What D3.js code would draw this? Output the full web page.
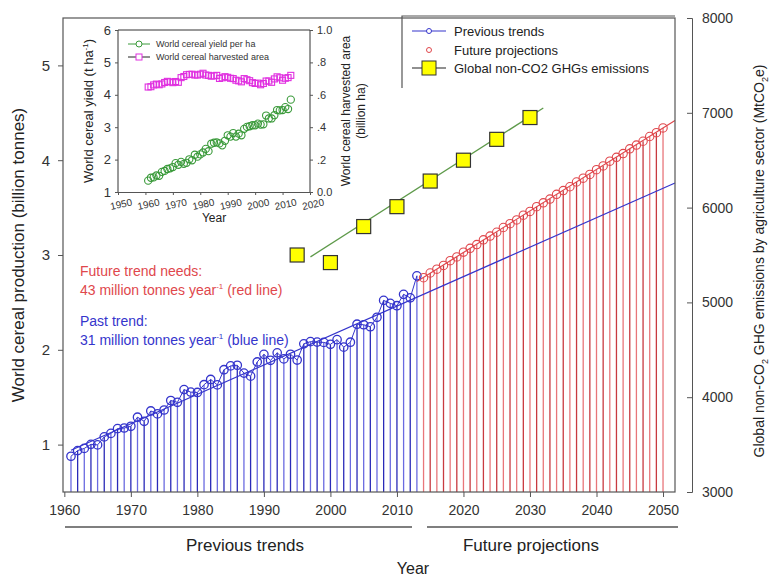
<!DOCTYPE html>
<html>
<head>
<meta charset="utf-8">
<script src="https://cdn.jsdelivr.net/npm/d3@7"></script>
<style>
  body { margin: 0; background: #fff; }
  svg { font-family: Arial, "Liberation Sans", sans-serif; }
  .axis path, .axis line { stroke: #555; }
  .axis text { fill: #333; }
</style>
</head>
<body>
<svg width="772" height="578"></svg>
<script>
// years of the observed series
const pastYears = d3.range(1961, 2014);
// world cereal production, billion tonnes, 1961-2013
const production = [0.877,0.937,0.960,1.003,0.997,1.081,1.118,1.168,1.175,1.193,1.289,1.246,1.355,1.324,1.365,1.465,1.446,1.580,1.554,1.550,1.632,1.687,1.630,1.790,1.830,1.837,1.754,1.722,1.872,1.952,1.889,1.968,1.904,1.953,1.892,2.063,2.086,2.081,2.078,2.058,2.107,2.028,2.080,2.270,2.264,2.243,2.343,2.521,2.490,2.465,2.585,2.548,2.780];
// future projections 2014-2050, billion tonnes
const futureYears = d3.range(2014, 2051);
const projection = [2.76,2.81,2.85,2.89,2.94,2.98,3.03,3.07,3.11,3.16,3.20,3.24,3.29,3.33,3.37,3.42,3.46,3.51,3.55,3.59,3.64,3.68,3.72,3.77,3.81,3.85,3.90,3.94,3.99,4.03,4.07,4.12,4.16,4.20,4.25,4.29,4.34];
// trend lines [year, value]
const pastTrend = [[1961, 0.94], [2051.8, 3.76]];
const futureTrend = [[2013, 2.72], [2051.8, 4.42]];
// non-CO2 GHG emissions, MtCO2e
const ghgYears = [1995, 2000, 2005, 2010, 2015, 2020, 2025, 2030];
const ghg = [5500, 5420, 5800, 6010, 6280, 6500, 6720, 6950];
const ghgTrend = [[1997, 5480], [2032, 7050]];
// inset: yield t/ha and harvested area billion ha, 1961-2013
const yieldVals = [1.35,1.44,1.45,1.51,1.50,1.62,1.65,1.71,1.73,1.77,1.89,1.84,1.93,1.87,1.90,2.01,1.98,2.15,2.09,2.16,2.22,2.33,2.26,2.49,2.52,2.53,2.50,2.44,2.58,2.75,2.71,2.82,2.71,2.80,2.75,2.95,3.01,3.03,3.06,3.06,3.11,3.08,3.09,3.36,3.27,3.27,3.37,3.53,3.52,3.53,3.62,3.56,3.85];
const areaVals = [0.648,0.650,0.661,0.666,0.662,0.667,0.676,0.683,0.680,0.675,0.682,0.677,0.706,0.713,0.724,0.726,0.727,0.722,0.722,0.727,0.733,0.722,0.720,0.715,0.717,0.720,0.701,0.705,0.712,0.708,0.702,0.700,0.690,0.686,0.680,0.700,0.693,0.687,0.675,0.670,0.672,0.662,0.670,0.685,0.685,0.677,0.698,0.711,0.705,0.690,0.702,0.706,0.720];

const xTicks = [1960, 1970, 1980, 1990, 2000, 2010, 2020, 2030, 2040, 2050];
const yTicks = [1, 2, 3, 4, 5];
const y2Ticks = [3000, 4000, 5000, 6000, 7000, 8000];
const insetXTicks = [1950, 1960, 1970, 1980, 1990, 2000, 2010, 2020];
const insetYTicks = [1, 2, 3, 4, 5, 6];
const insetY2Ticks = [0, 0.2, 0.4, 0.6, 0.8, 1.0];

const BLUE = '#3535cc';
const RED = '#e0474c';
const fmtInt = d3.format('d');

const svg = d3.select('svg');
const M = { left: 63, right: 675, top: 18, bottom: 492 };

const x = d3.scaleLinear().domain([1959.8, 2051.8]).range([M.left, M.right]);
const y = d3.scaleLinear().domain([0.5, 5.5]).range([M.bottom, M.top]);
const y2 = d3.scaleLinear().domain([3000, 8000]).range([M.bottom, M.top]);

// bars (stems)
const pastData = pastYears.map((yr, i) => ({ yr, v: production[i] }));
const futData = futureYears.map((yr, i) => ({ yr, v: projection[i] }));

svg.append('g').selectAll('line').data(pastData).enter().append('line')
  .attr('x1', d => x(d.yr)).attr('x2', d => x(d.yr))
  .attr('y1', y(0.5)).attr('y2', d => y(d.v))
  .attr('stroke', (d, i) => i % 2 ? '#2a2ab8' : '#6a6ae0')
  .attr('stroke-width', 1.3);

svg.append('g').selectAll('line').data(futData).enter().append('line')
  .attr('x1', d => x(d.yr)).attr('x2', d => x(d.yr))
  .attr('y1', y(0.5)).attr('y2', d => y(d.v))
  .attr('stroke', (d, i) => i % 2 ? '#c83a40' : '#e8767a')
  .attr('stroke-width', 1.3);

const line = d3.line().x(d => x(d[0])).y(d => y(d[1]));

// trend lines
svg.append('path').attr('d', line(pastTrend)).attr('stroke', BLUE).attr('stroke-width', 1.2).attr('fill', 'none');
svg.append('path').attr('d', line(futureTrend)).attr('stroke', RED).attr('stroke-width', 1.2).attr('fill', 'none');

// observed line + circles
svg.append('path')
  .attr('d', line(pastData.map(d => [d.yr, d.v])))
  .attr('stroke', BLUE).attr('stroke-width', 1).attr('fill', 'none');
svg.append('g').selectAll('circle').data(pastData).enter().append('circle')
  .attr('cx', d => x(d.yr)).attr('cy', d => y(d.v)).attr('r', 4.2)
  .attr('fill', 'none').attr('stroke', BLUE).attr('stroke-width', 1.3);

svg.append('g').selectAll('circle').data(futData).enter().append('circle')
  .attr('cx', d => x(d.yr)).attr('cy', d => y(d.v)).attr('r', 4.2)
  .attr('fill', 'none').attr('stroke', RED).attr('stroke-width', 1.1);

// GHG series on right axis
const line2 = d3.line().x(d => x(d[0])).y(d => y2(d[1]));
svg.append('path').attr('d', line2(ghgTrend)).attr('stroke', '#5e9a4a').attr('stroke-width', 1.3);
svg.append('g').selectAll('rect').data(ghgYears).enter().append('rect')
  .attr('x', d => x(d) - 7).attr('y', (d, i) => y2(ghg[i]) - 7)
  .attr('width', 14).attr('height', 14)
  .attr('fill', '#ffff00').attr('stroke', '#333').attr('stroke-width', 1.2);

// frame
svg.append('rect').attr('x', M.left).attr('y', M.top)
  .attr('width', M.right - M.left).attr('height', M.bottom - M.top)
  .attr('fill', 'none').attr('stroke', '#555').attr('stroke-width', 1.2);

// axes
svg.append('g').attr('class', 'axis')
  .attr('transform', `translate(0,${M.bottom})`)
  .call(d3.axisBottom(x).tickValues(xTicks).tickFormat(fmtInt).tickSize(5).tickPadding(8))
  .call(g => g.select('.domain').remove())
  .selectAll('text').attr('font-size', 14);

svg.append('g').attr('class', 'axis')
  .attr('transform', `translate(${M.left},0)`)
  .call(d3.axisLeft(y).tickValues(yTicks).tickFormat(fmtInt).tickSize(5).tickPadding(8))
  .call(g => g.select('.domain').remove())
  .selectAll('text').attr('font-size', 15);

svg.append('g').attr('class', 'axis')
  .attr('transform', `translate(692,0)`)
  .call(d3.axisRight(y2).tickValues(y2Ticks).tickFormat(fmtInt).tickSize(-5).tickPadding(10).tickSizeOuter(-5))
  .selectAll('text').attr('font-size', 14);

// axis titles
svg.append('text').attr('transform', `translate(24,${(M.top + M.bottom) / 2}) rotate(-90)`)
  .attr('text-anchor', 'middle').attr('font-size', 17).attr('fill', '#222')
  .text('World cereal production (billion tonnes)');

const rt = svg.append('text').attr('transform', `translate(764,${(M.top + M.bottom) / 2 + 6}) rotate(-90)`)
  .attr('text-anchor', 'middle').attr('font-size', 14).attr('fill', '#222');
rt.append('tspan').text('Global non-CO');
rt.append('tspan').attr('font-size', 9).attr('dy', 4).text('2');
rt.append('tspan').attr('dy', -4).text(' GHG emissions by agriculture sector (MtCO');
rt.append('tspan').attr('font-size', 9).attr('dy', 4).text('2');
rt.append('tspan').attr('dy', -4).text('e)');

// bottom brackets
svg.append('line').attr('x1', 65).attr('x2', 412).attr('y1', 527).attr('y2', 527).attr('stroke', '#555').attr('stroke-width', 1.3);
svg.append('line').attr('x1', 427).attr('x2', 678).attr('y1', 527).attr('y2', 527).attr('stroke', '#555').attr('stroke-width', 1.3);
svg.append('text').attr('x', 245).attr('y', 551).attr('text-anchor', 'middle').attr('font-size', 17).attr('fill', '#222').text('Previous trends');
svg.append('text').attr('x', 531).attr('y', 551).attr('text-anchor', 'middle').attr('font-size', 17).attr('fill', '#222').text('Future projections');
svg.append('text').attr('x', 413).attr('y', 574).attr('text-anchor', 'middle').attr('font-size', 16).attr('fill', '#222').text('Year');

// annotations
const ann = (tx, ty, color, parts) => {
  const t = svg.append('text').attr('x', tx).attr('y', ty).attr('font-size', 14).attr('fill', color);
  parts.forEach(p => t.append('tspan').attr('dy', p.dy || 0).attr('font-size', p.fs || 14).text(p.t));
};
ann(80, 276, RED, [{ t: 'Future trend needs:' }]);
ann(80, 295, RED, [{ t: '43 million tonnes year' }, { t: '-1', fs: 8, dy: -6 }, { t: ' (red line)', dy: 6 }]);
ann(80, 326, BLUE, [{ t: 'Past trend:' }]);
ann(80, 345, BLUE, [{ t: '31 million tonnes year' }, { t: '-1', fs: 8, dy: -6 }, { t: ' (blue line)', dy: 6 }]);

// legend
svg.append('path').attr('d', 'M402,88V16H675').attr('fill', 'none').attr('stroke', '#555').attr('stroke-width', 1.2);
const lg = svg.append('g').attr('font-size', 13).attr('fill', '#222');
lg.append('line').attr('x1', 412).attr('x2', 446).attr('y1', 31).attr('y2', 31).attr('stroke', BLUE).attr('stroke-width', 1.2);
lg.append('circle').attr('cx', 429).attr('cy', 31).attr('r', 2.5).attr('fill', '#fff').attr('stroke', BLUE);
lg.append('text').attr('x', 454).attr('y', 36).text('Previous trends');
lg.append('circle').attr('cx', 429).attr('cy', 50).attr('r', 2.5).attr('fill', 'none').attr('stroke', RED);
lg.append('text').attr('x', 454).attr('y', 55).text('Future projections');
lg.append('line').attr('x1', 412).attr('x2', 446).attr('y1', 68).attr('y2', 68).attr('stroke', '#222').attr('stroke-width', 1.2);
lg.append('rect').attr('x', 422).attr('y', 61).attr('width', 14).attr('height', 14).attr('fill', '#ffff00').attr('stroke', '#333');
lg.append('text').attr('x', 454).attr('y', 73).text('Global non-CO2 GHGs emissions');

// ---------- inset ----------
const I = { left: 118, right: 310, top: 30, bottom: 192 };
const ix = d3.scaleLinear().domain([1950, 2020]).range([I.left, I.right]);
const iy = d3.scaleLinear().domain([1, 6]).range([I.bottom, I.top]);
const iy2 = d3.scaleLinear().domain([0, 1]).range([I.bottom, I.top]);
const inset = svg.append('g');

inset.append('g').selectAll('circle').data(pastYears).enter().append('circle')
  .attr('cx', d => ix(d)).attr('cy', (d, i) => iy(yieldVals[i])).attr('r', 3.6)
  .attr('fill', 'none').attr('stroke', '#3a9a3a').attr('stroke-width', 1.1);
inset.append('g').selectAll('rect').data(pastYears).enter().append('rect')
  .attr('x', d => ix(d) - 3).attr('y', (d, i) => iy2(areaVals[i]) - 3).attr('width', 6).attr('height', 6)
  .attr('fill', 'none').attr('stroke', '#e030e0').attr('stroke-width', 1.1);

inset.append('path').attr('d', `M${I.left},${I.bottom}V${I.top}H${I.right}V${I.bottom}`)
  .attr('fill', 'none').attr('stroke', '#333').attr('stroke-width', 1);

inset.append('g').attr('class', 'axis')
  .attr('transform', `translate(0,${I.bottom})`)
  .call(d3.axisBottom(ix).tickValues(insetXTicks).tickFormat(fmtInt).tickSize(3).tickPadding(4))
  .selectAll('text').attr('font-size', 10)
  .attr('transform', 'rotate(-12)').attr('dy', '0.9em');

inset.append('g').attr('class', 'axis')
  .attr('transform', `translate(${I.left},0)`)
  .call(d3.axisLeft(iy).tickValues(insetYTicks).tickFormat(fmtInt).tickSize(3).tickPadding(4))
  .call(g => g.select('.domain').remove())
  .selectAll('text').attr('font-size', 13);

inset.append('g').attr('class', 'axis')
  .attr('transform', `translate(${I.right},0)`)
  .call(d3.axisRight(iy2).tickValues(insetY2Ticks).tickSize(3).tickPadding(4)
    .tickFormat(d => d === 0 ? '0.0' : d === 1 ? '1.0' : d3.format('.1f')(d).replace('0.', '.')))
  .call(g => g.select('.domain').remove())
  .selectAll('text').attr('font-size', 11);

inset.append('text').attr('x', (I.left + I.right) / 2).attr('y', 222).attr('text-anchor', 'middle')
  .attr('font-size', 12).attr('fill', '#222').text('Year');

const lt = inset.append('text').attr('transform', `translate(93,${(I.top + I.bottom) / 2}) rotate(-90)`)
  .attr('text-anchor', 'middle').attr('font-size', 13).attr('fill', '#222');
lt.append('tspan').text('World cereal yield (t ha');
lt.append('tspan').attr('font-size', 8).attr('dy', -5).text('-1');
lt.append('tspan').attr('dy', 5).text(')');

inset.append('text').attr('transform', `translate(350,${(I.top + I.bottom) / 2}) rotate(-90)`)
  .attr('text-anchor', 'middle').attr('font-size', 12).attr('fill', '#222').text('World cereal harvested area');
inset.append('text').attr('transform', `translate(365,${(I.top + I.bottom) / 2}) rotate(-90)`)
  .attr('text-anchor', 'middle').attr('font-size', 12).attr('fill', '#222').text('(billion ha)');

const il = inset.append('g').attr('font-size', 9).attr('fill', '#333');
il.append('line').attr('x1', 128).attr('x2', 150).attr('y1', 44).attr('y2', 44).attr('stroke', '#3a9a3a');
il.append('circle').attr('cx', 139).attr('cy', 44).attr('r', 3).attr('fill', '#fff').attr('stroke', '#3a9a3a');
il.append('text').attr('x', 156).attr('y', 47).text('World cereal yield per ha');
il.append('line').attr('x1', 128).attr('x2', 150).attr('y1', 57).attr('y2', 57).attr('stroke', '#222');
il.append('rect').attr('x', 136).attr('y', 54).attr('width', 6).attr('height', 6).attr('fill', '#fff').attr('stroke', '#e030e0');
il.append('text').attr('x', 156).attr('y', 60).text('World cereal harvested area');
</script>
</body>
</html>
